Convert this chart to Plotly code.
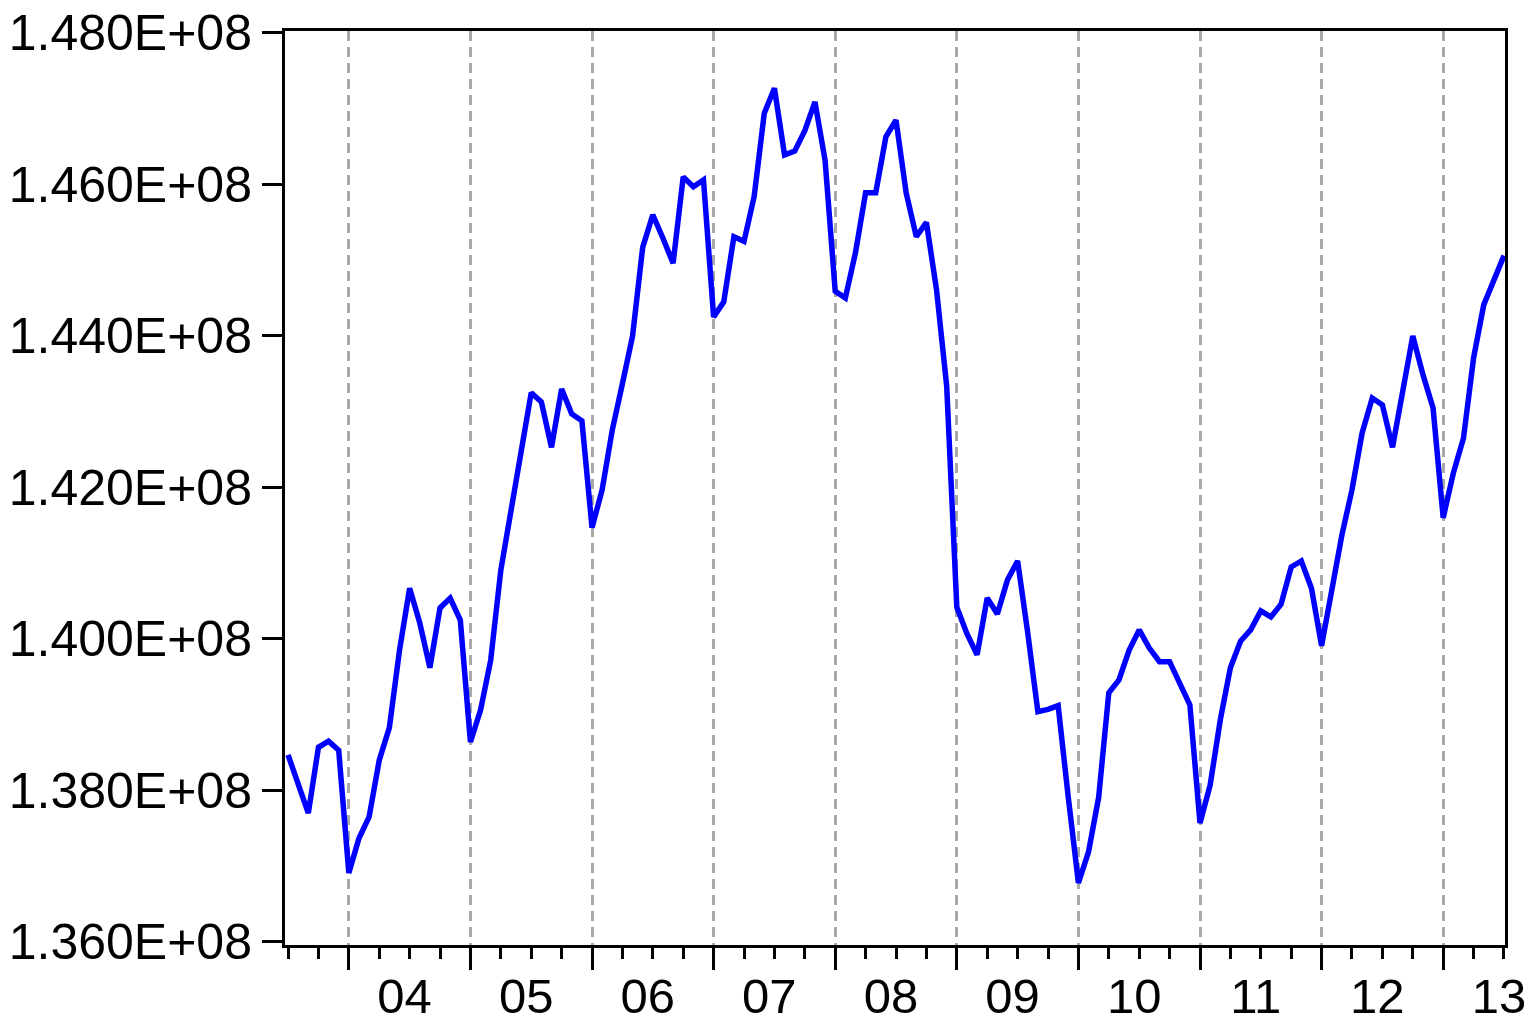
import plotly.graph_objects as go

# Monthly observations 2003M07 .. 2013M07 (millions)
start_year = 2003
start_month = 7
values_millions = [
    138.47, 138.06, 137.70, 138.57, 138.65, 138.53,            # 2003 M07-M12
    136.91, 137.37, 137.65, 138.40, 138.83, 139.85,            # 2004 M01-M06
    140.67, 140.21, 139.62, 140.41, 140.54, 140.25,            # 2004 M07-M12
    138.64, 139.06, 139.72, 140.91, 141.68, 142.42,            # 2005 M01-M06
    143.25, 143.13, 142.53, 143.30, 142.97, 142.88,            # 2005 M07-M12
    141.47, 141.97, 142.76, 143.37, 144.00, 145.17,            # 2006 M01-M06
    145.60, 145.29, 144.96, 146.10, 145.97, 146.06,            # 2006 M07-M12
    144.25, 144.45, 145.31, 145.25, 145.84, 146.94,            # 2007 M01-M06
    147.27, 146.39, 146.44, 146.71, 147.09, 146.32,            # 2007 M07-M12
    144.59, 144.50, 145.10, 145.89, 145.89, 146.63,            # 2008 M01-M06
    146.85, 145.89, 145.31, 145.50, 144.61, 143.34,            # 2008 M07-M12
    140.42, 140.07, 139.79, 140.54, 140.33, 140.78,            # 2009 M01-M06
    141.03, 140.08, 139.04, 139.07, 139.12, 137.91,            # 2009 M07-M12
    136.78, 137.19, 137.91, 139.29, 139.46, 139.85,            # 2010 M01-M06
    140.12, 139.88, 139.70, 139.70, 139.41, 139.13,            # 2010 M07-M12
    137.57, 138.07, 138.93, 139.62, 139.97, 140.12,            # 2011 M01-M06
    140.37, 140.29, 140.46, 140.95, 141.03, 140.67,            # 2011 M07-M12
    139.91, 140.61, 141.37, 141.97, 142.72, 143.18,            # 2012 M01-M06
    143.09, 142.53, 143.29, 144.00, 143.49, 143.05,            # 2012 M07-M12
    141.60, 142.19, 142.65, 143.71, 144.41, 144.74,            # 2013 M01-M06
    145.06,                                                    # 2013 M07
]
values = [v * 1e6 for v in values_millions]
obs_index = list(range(len(values)))

year_labels = ["04", "05", "06", "07", "08", "09", "10", "11", "12", "13"]
y_tick_values = [136e6, 138e6, 140e6, 142e6, 144e6, 146e6, 148e6]
y_tick_labels = ["1.360E+08", "1.380E+08", "1.400E+08", "1.420E+08",
                 "1.440E+08", "1.460E+08", "1.480E+08"]

# January positions (year boundaries) in observation index
first_jan = (12 - start_month + 1) % 12
jan_positions = [first_jan + 12 * k for k in range(len(year_labels))]
# label positions: middle of each year, last one near the end of the sample
label_positions = [p + 5.5 for p in jan_positions[:-1]] + [len(values) - 1.5]

x_range = [-0.3, 120.1]
y_range = [135.96e6, 148.026e6]

fig = go.Figure()
fig.add_trace(go.Scatter(
    x=obs_index, y=values, mode="lines",
    line=dict(color="#0000FF", width=5.5),
    showlegend=False, hoverinfo="skip",
))
# invisible trace to activate second x axis for labels
fig.add_trace(go.Scatter(
    x=[label_positions[0]], y=[values[0]], xaxis="x2", mode="markers",
    marker=dict(opacity=0), showlegend=False, hoverinfo="skip",
))

font_family = "Liberation Sans, Arial, sans-serif"

fig.update_layout(
    width=1538, height=1024,
    margin=dict(l=285, r=33, t=31, b=79, autoexpand=False),
    paper_bgcolor="white", plot_bgcolor="white",
    font=dict(family=font_family, size=50, color="black"),
    xaxis=dict(
        range=x_range, tickmode="array", tickvals=jan_positions,
        showticklabels=False, ticks="outside", ticklen=22, tickwidth=3,
        tickcolor="black", automargin=False,
        showgrid=True, gridcolor="#A9A9A9", gridwidth=2.5, griddash="10px,6px",
        zeroline=False, showline=True, linecolor="black", linewidth=3,
        mirror=True,
        minor=dict(tickmode="linear", tick0=0, dtick=3, ticks="outside",
                   ticklen=11, tickwidth=3, tickcolor="black", showgrid=False),
    ),
    xaxis2=dict(
        range=x_range, overlaying="x", side="bottom", anchor="y",
        tickmode="array", tickvals=label_positions, ticktext=year_labels,
        ticks="outside", ticklen=8, tickcolor="rgba(0,0,0,0)",
        showgrid=False, zeroline=False, showline=False, automargin=False,
        ticklabeloverflow="allow",
        tickfont=dict(family=font_family, size=49, color="black"),
    ),
    yaxis=dict(
        range=y_range, tickmode="array", tickvals=y_tick_values,
        ticktext=y_tick_labels, ticks="outside", ticklen=20, tickwidth=3,
        tickcolor="black", showgrid=False, zeroline=False, automargin=False,
        showline=True, linecolor="black", linewidth=3, mirror=True,
        ticklabeloverflow="allow",
        tickfont=dict(family=font_family, size=50, color="black"),
        ticklabelstandoff=0,
    ),
)

# remove the browser's default 8px body margin so the figure fills the window
fig.write_html("out.html",
               config={"displayModeBar": False},
               post_script="document.body.style.margin='0px';")
